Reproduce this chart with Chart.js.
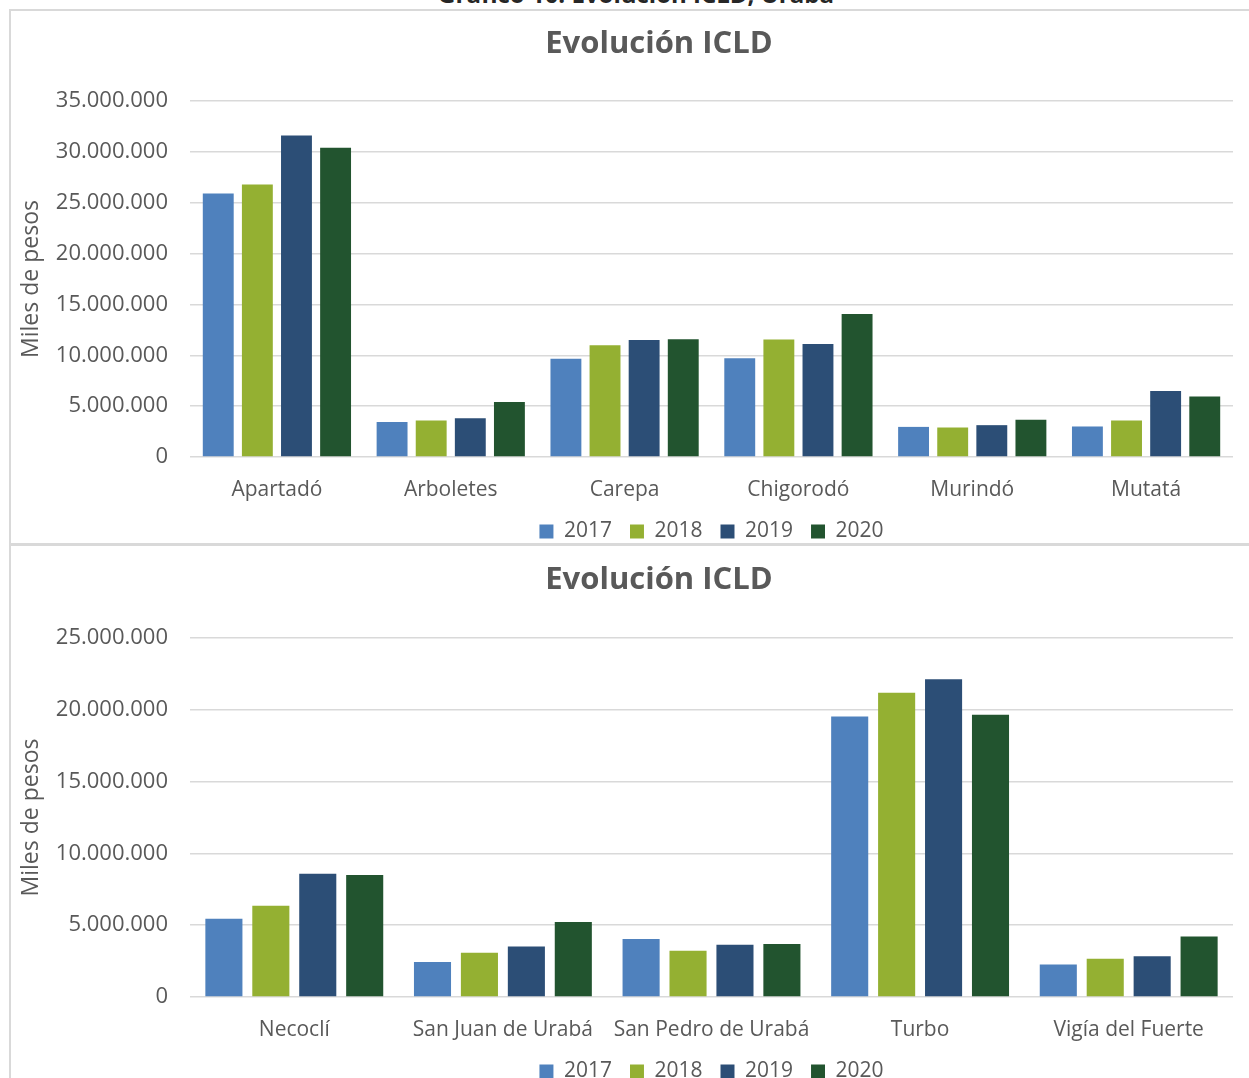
<!DOCTYPE html>
<html lang="es">
<head>
<meta charset="utf-8">
<title>Evolución ICLD</title>
<script src="https://cdn.jsdelivr.net/npm/chart.js@4.4.1/dist/chart.umd.min.js"></script>
<style>
  html, body { margin: 0; padding: 0; background: #fff; }
  body { width: 1249px; height: 1078px; overflow: hidden; position: relative; font-family: "Open Sans", sans-serif; }
  .caption { position: absolute; top: -16px; left: 0; width: 1272px; text-align: center;
             font-weight: bold; font-size: 24px; line-height: 20px; color: #262626; }
  .panel { position: absolute; left: 9px; width: 1320px; border: 2px solid #d9d9d9; background: #fff; }
  #panelTop { top: 9px; height: 532px; }
  #panelBottom { top: 544px; height: 600px; }
  canvas { position: absolute; left: 10px; }
  #chartTop { top: 10px; }
  #chartBottom { top: 547px; }
</style>
</head>
<body>
<div class="caption">Gráfico 10. Evolución ICLD, Urabá</div>
<div class="panel" id="panelTop"></div>
<div class="panel" id="panelBottom"></div>
<canvas id="chartTop" width="1298" height="542"></canvas>
<canvas id="chartBottom" width="1298" height="545"></canvas>

<script>
// Años (series) y colores de cada serie
const years = ["2017", "2018", "2019", "2020"];
const colors = ["#4f81bd", "#94b032", "#2c4e76", "#22542f"];

// Primer gráfico: municipios y valores (miles de pesos)
const municipiosTop = ["Apartadó", "Arboletes", "Carepa", "Chigorodó", "Murindó", "Mutatá"];
const top2017 = [25900000, 3450000, 9660000, 9700000, 2960000, 3000000];
const top2018 = [26800000, 3600000, 10980000, 11540000, 2900000, 3600000];
const top2019 = [31600000, 3800000, 11500000, 11100000, 3130000, 6500000];
const top2020 = [30400000, 5400000, 11570000, 14070000, 3650000, 5950000];

// Segundo gráfico
const municipiosBottom = ["Necoclí", "San Juan de Urabá", "San Pedro de Urabá", "Turbo", "Vigía del Fuerte"];
const bottom2017 = [5450000, 2440000, 4040000, 19540000, 2270000];
const bottom2018 = [6360000, 3080000, 3220000, 21190000, 2670000];
const bottom2019 = [8590000, 3520000, 3640000, 22120000, 2830000];
const bottom2020 = [8500000, 5220000, 3690000, 19660000, 4220000];

// Ejes Y
const maxTop = 35000000;
const maxBottom = 25000000;
const stepY = 5000000;

const textColor = "#595959";
const gridColor = "#d9d9d9";

// Formato 35.000.000
function formatMiles(value) {
    return String(value).replace(/\B(?=(\d{3})+(?!\d))/g, ".");
}

function makeChart(canvasId, labels, series, maxY, titlePad) {
    const ctx = document.getElementById(canvasId).getContext("2d");
    return new Chart(ctx, {
        type: "bar",
        data: {
            labels: labels,
            datasets: series.map((data, i) => ({
                label: years[i],
                data: data,
                backgroundColor: colors[i],
                borderWidth: 0,
                categoryPercentage: 0.9,
                barPercentage: 0.79
            }))
        },
        options: {
            responsive: false,
            animation: false,
            layout: { padding: 0 },
            plugins: {
                title: {
                    display: true,
                    text: "Evolución ICLD",
                    color: textColor,
                    font: { family: "Open Sans", size: 31, weight: "bold" },
                    padding: titlePad
                },
                legend: {
                    position: "bottom",
                    fullSize: false,   // centrada sobre el área del gráfico
                    labels: {
                        color: textColor,
                        font: { family: "Open Sans", size: 21 },
                        boxWidth: 14,
                        boxHeight: 14,
                        padding: 18
                    }
                },
                tooltip: { enabled: false }
            },
            scales: {
                x: {
                    afterFit: (scale) => { scale.height = 46; },
                    grid: { display: false, drawTicks: false },
                    border: { display: false },
                    ticks: {
                        color: textColor,
                        font: { family: "Open Sans", size: 21 },
                        padding: 20,
                        maxRotation: 0,
                        autoSkip: false
                    }
                },
                y: {
                    min: 0,
                    max: maxY,
                    afterFit: (scale) => { scale.width = 180; },
                    grid: { color: gridColor, lineWidth: 1.5, drawTicks: false },
                    border: { display: false },
                    ticks: {
                        stepSize: stepY,
                        color: textColor,
                        font: { family: "Open Sans", size: 22 },
                        padding: 22,
                        callback: (v) => formatMiles(v)
                    },
                    title: {
                        display: true,
                        text: "Miles de pesos",
                        color: textColor,
                        font: { family: "Open Sans", size: 23 },
                        padding: { top: 8, bottom: 0 }
                    }
                },
                // eje vacío a la derecha: deja margen como en el original
                margen: {
                    position: "right",
                    afterFit: (scale) => { scale.width = 75; },
                    grid: { display: false, drawTicks: false },
                    border: { display: false },
                    ticks: { display: false }
                }
            }
        }
    });
}

makeChart("chartTop", municipiosTop, [top2017, top2018, top2019, top2020], maxTop,
          { top: 16, bottom: 37.8 });
makeChart("chartBottom", municipiosBottom, [bottom2017, bottom2018, bottom2019, bottom2020], maxBottom,
          { top: 15, bottom: 38.8 });
</script>
</body>
</html>
